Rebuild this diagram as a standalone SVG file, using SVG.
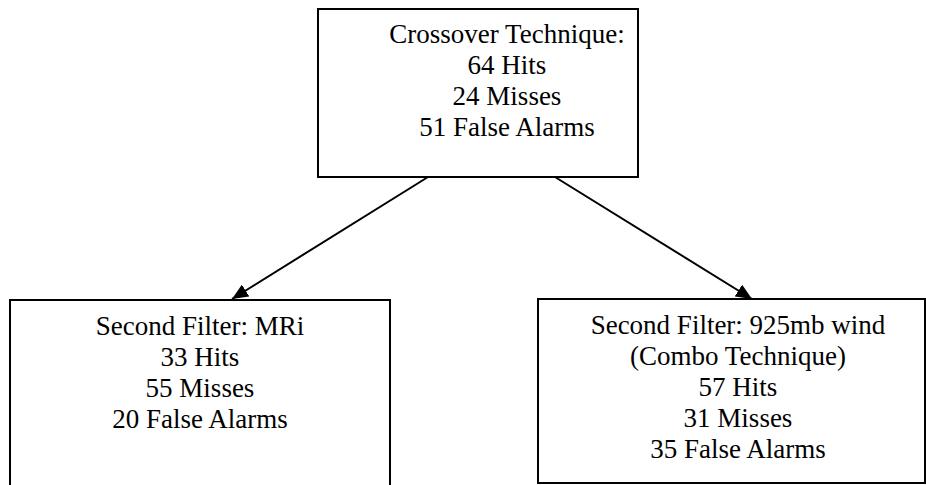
<svg xmlns="http://www.w3.org/2000/svg" width="926" height="485" viewBox="0 0 926 485">
<style>
.box{fill:#fff;stroke:#000;stroke-width:2}
.t{font-family:"Liberation Serif","Times New Roman",serif;font-size:27px;fill:#000;text-anchor:middle}
.edge{stroke:#000;stroke-width:2;fill:none}
</style>
<defs>
<marker id="arr" viewBox="0 0 16 14" refX="16" refY="7" markerWidth="16" markerHeight="14" markerUnits="userSpaceOnUse" orient="auto">
<path d="M0,0 L16,7 L0,14 z" fill="#000"/>
</marker>
</defs>
<rect width="926" height="485" fill="#fff"/>
<g id="connectors">
<line class="edge" x1="428" y1="177" x2="232" y2="299" marker-end="url(#arr)"/>
<line class="edge" x1="555" y1="177" x2="752" y2="299" marker-end="url(#arr)"/>
</g>
<g id="crossover">
<rect class="box" x="318" y="9" width="320" height="168"/>
<text class="t" x="507" y="43">Crossover Technique:</text>
<text class="t" x="507" y="74">64 Hits</text>
<text class="t" x="507" y="105">24 Misses</text>
<text class="t" x="507" y="136">51 False Alarms</text>
</g>
<g id="mri">
<rect class="box" x="10" y="300" width="380" height="190"/>
<text class="t" x="200" y="335">Second Filter: MRi</text>
<text class="t" x="200" y="366">33 Hits</text>
<text class="t" x="200" y="397">55 Misses</text>
<text class="t" x="200" y="428">20 False Alarms</text>
</g>
<g id="combo">
<rect class="box" x="538" y="299" width="387" height="184"/>
<text class="t" x="738" y="334">Second Filter: 925mb wind</text>
<text class="t" x="738" y="365">(Combo Technique)</text>
<text class="t" x="738" y="396">57 Hits</text>
<text class="t" x="738" y="427">31 Misses</text>
<text class="t" x="738" y="458">35 False Alarms</text>
</g>
</svg>
